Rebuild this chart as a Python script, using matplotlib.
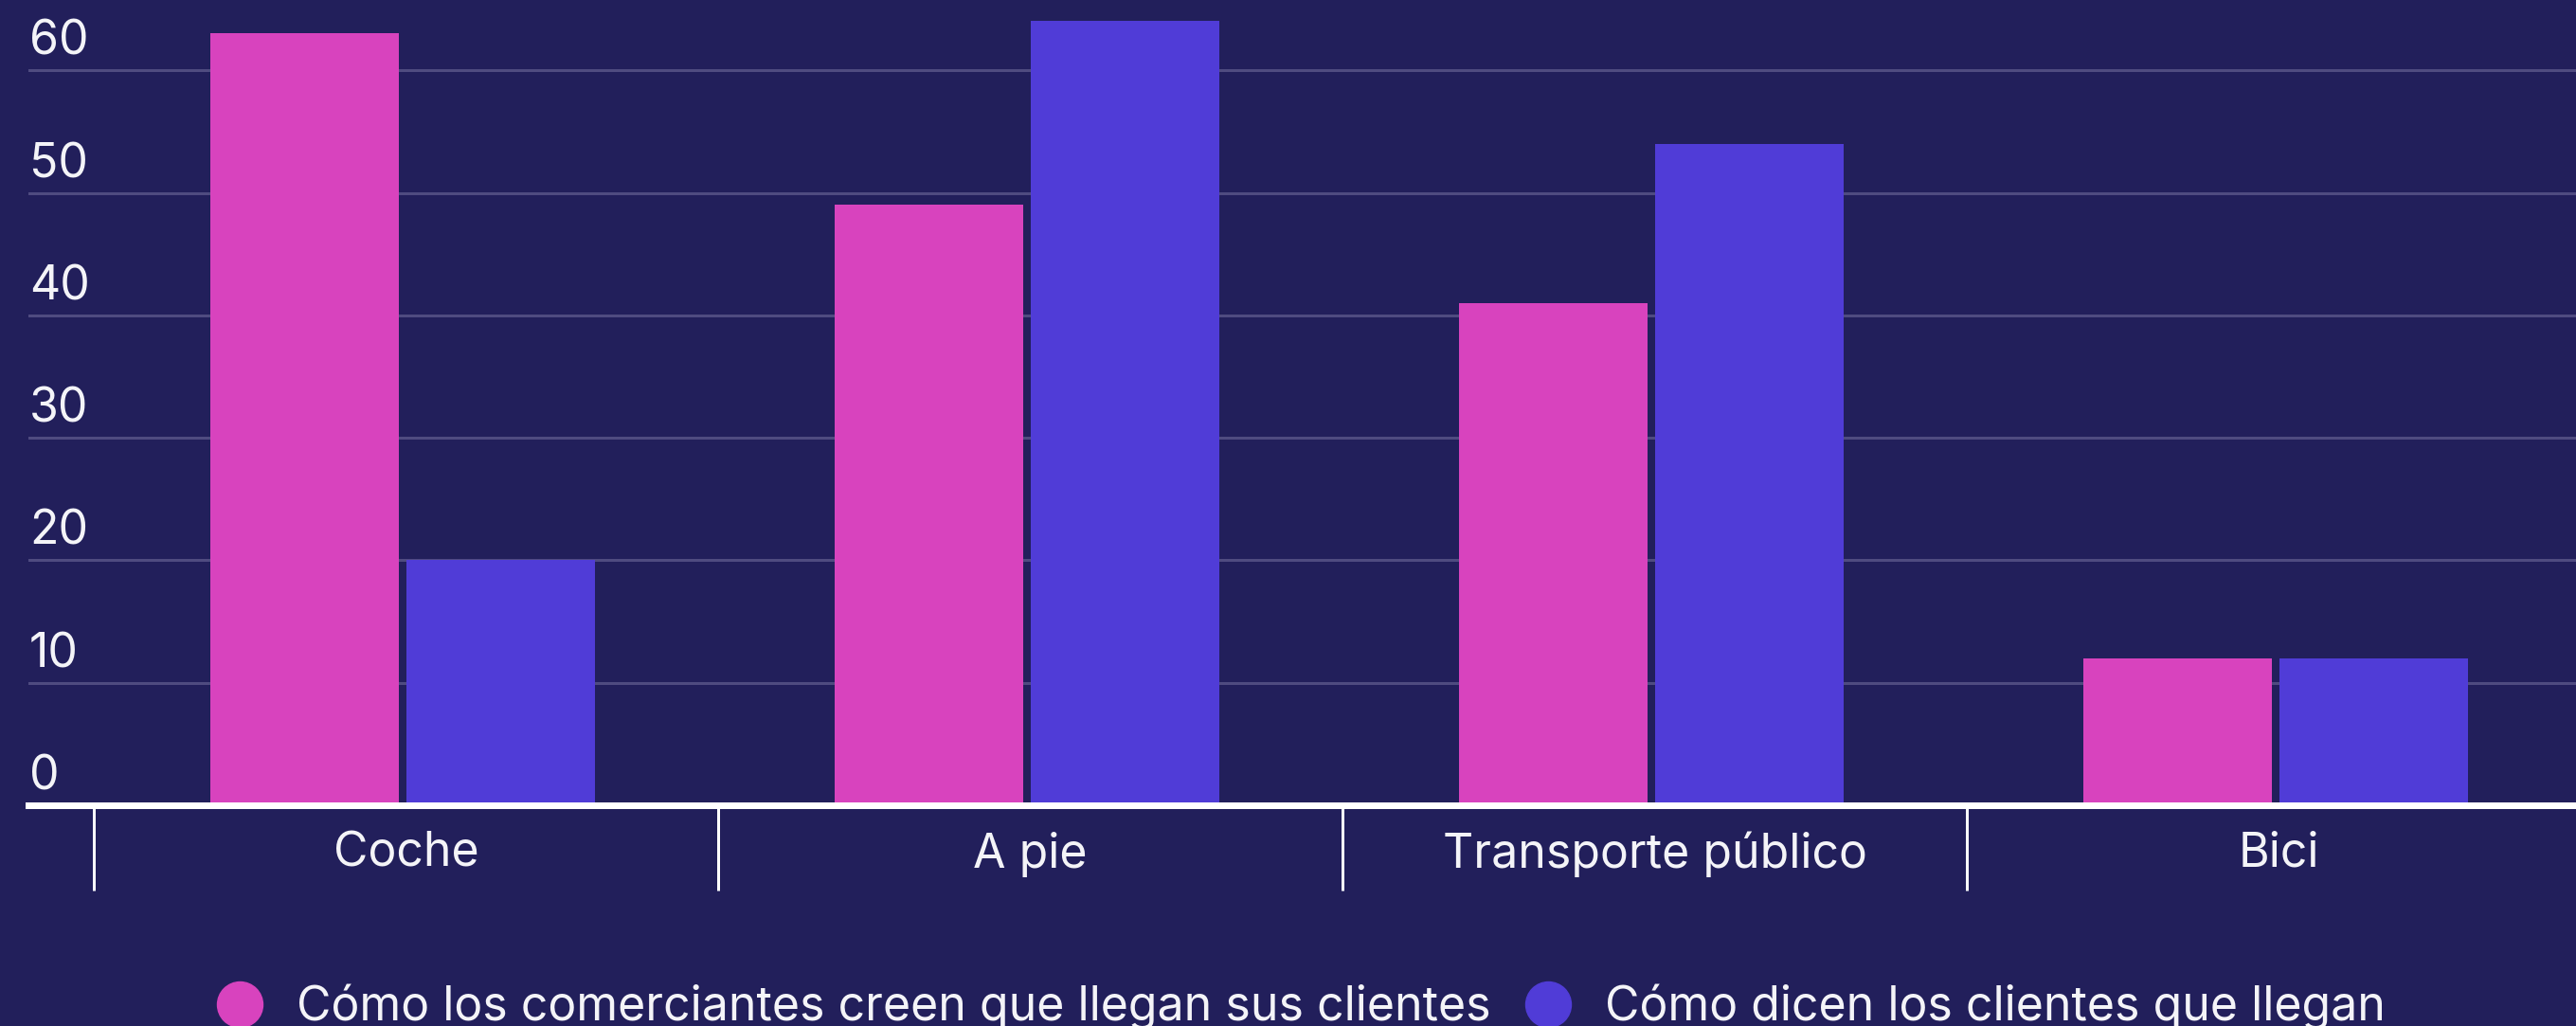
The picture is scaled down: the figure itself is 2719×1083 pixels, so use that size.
import matplotlib
matplotlib.use('Agg')
import matplotlib.pyplot as plt
import numpy as np
from matplotlib.transforms import ScaledTranslation
from matplotlib.lines import Line2D

# ---- data ----
categories = ['Coche', 'A pie', 'Transporte público', 'Bici']
comerciantes = [63, 49, 41, 12]
clientes = [20, 64, 54, 12]
series_names = ['Cómo los comerciantes creen que llegan sus clientes',
                'Cómo dicen los clientes que llegan']
yticks = [0, 10, 20, 30, 40, 50, 60]
ytick_labels = ['0', '10', '20', '30', '40', '50', '60']

# ---- style ----
W, H, DPI = 2719, 1083, 100
BG = '#221f5b'
PINK = '#d843be'
BLUE = '#503cd7'
GRID = '#4f4b80'
TXT = '#f4f4f8'
PX = 72 / DPI  # points per pixel
FS = 36

plt.rcParams['font.family'] = ['Inter', 'DejaVu Sans']
plt.rcParams['font.weight'] = 'normal'

fig = plt.figure(figsize=(W / DPI, H / DPI), dpi=DPI, facecolor=BG)
ax = fig.add_axes([30 / W, 233 / H, 1 - 30 / W, 850 / H])
ax.set_facecolor(BG)

x = np.arange(len(categories))
w, off, grp = 0.302, 0.157, -0.005
ax.bar(x + grp - off, comerciantes, w, color=PINK, zorder=2, linewidth=0)
ax.bar(x + grp + off, clientes, w, color=BLUE, zorder=2, linewidth=0)

for s in ['top', 'right', 'left']:
    ax.spines[s].set_visible(False)
ax.spines['bottom'].set_color('white')
ax.spines['bottom'].set_linewidth(7 * PX)
ax.spines['bottom'].set_zorder(3)

# y axis
ax.set_yticks(yticks)
ax.set_yticklabels(ytick_labels)
ax.tick_params(axis='y', length=0, pad=0, labelsize=FS, labelcolor=TXT)
shift = ScaledTranslation(1 / DPI, 30 / DPI, fig.dpi_scale_trans)
for lab in ax.get_yticklabels():
    lab.set_horizontalalignment('left')
    lab.set_verticalalignment('center')
    lab.set_transform(lab.get_transform() + shift)
ax.yaxis.grid(True, color=GRID, linewidth=3 * PX)
ax.set_axisbelow(True)

# x axis
ax.set_xticks(x)
ax.set_xticklabels(categories)
ax.set_xticks(np.arange(len(categories) + 1) - 0.5, minor=True)
ax.tick_params(axis='x', which='major', length=0, pad=20, labelsize=FS, labelcolor=TXT)
ax.tick_params(axis='x', which='minor', length=90 * PX, width=3 * PX, color='white')

# limits (after ticks, so they are not expanded)
unit = 659.0
left = -0.5 - (99 - 30) / unit
ax.set_xlim(left, left + (W - 30) / unit)
ax.set_ylim(0, 850 / 12.93)

# legend
handles = [Line2D([], [], marker='o', ls='', markersize=48 * PX,
                  markerfacecolor=c, markeredgecolor=c) for c in (PINK, BLUE)]
fig.legend(handles, series_names, loc='center', bbox_to_anchor=(0.505, 20 / H),
           ncol=2, frameon=False, fontsize=FS, labelcolor=TXT,
           handlelength=1.0, handletextpad=0.7, columnspacing=0.7,
           borderpad=0, borderaxespad=0)

fig.savefig('out.png', dpi=DPI, facecolor=BG)
